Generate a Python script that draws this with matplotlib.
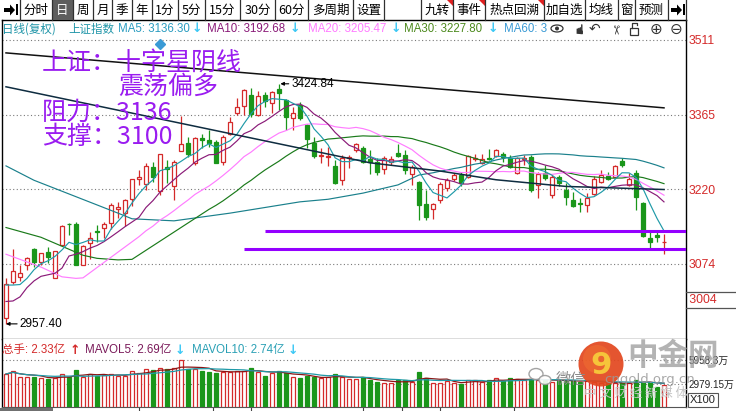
import numpy as np
import pandas as pd
import matplotlib
matplotlib.use("Agg")
import matplotlib.pyplot as plt
from matplotlib.patches import Rectangle, Polygon, Circle, Ellipse

CJK = ['Noto Sans CJK SC', 'DejaVu Sans']
MIX = ['Liberation Sans', 'Noto Sans CJK SC', 'DejaVu Sans']
plt.rcParams['font.family'] = CJK
plt.rcParams['axes.unicode_minus'] = False

# ---------------- data ----------------
opens = [2968, 3038, 3048, 3072, 3103, 3078, 3097, 3047, 3111, 3152,
         3152, 3073, 3114, 3138, 3145, 3153, 3182, 3174, 3201, 3239,
         3230, 3262, 3217, 3262, 3226, 3294, 3309, 3270, 3319, 3315,
         3312, 3273, 3328, 3367, 3382, 3403, 3364, 3403, 3387, 3414,
         3393, 3358, 3384, 3345, 3310, 3284, 3283, 3265, 3237, 3281,
         3296, 3299, 3278, 3272, 3258, 3273, 3291, 3286, 3250, 3234,
         3191, 3182, 3199, 3221, 3239, 3247, 3244, 3279, 3271, 3281,
         3285, 3288, 3280, 3252, 3279, 3283, 3228, 3252, 3208, 3243,
         3218, 3199, 3193, 3188, 3211, 3234, 3245, 3244, 3275, 3228,
         3252, 3193, 3124, 3130, 3117]
highs = [3046, 3103, 3073, 3088, 3106, 3096, 3108, 3100, 3149, 3153,
         3156, 3110, 3137, 3150, 3156, 3193, 3195, 3200, 3240, 3257,
         3270, 3273, 3289, 3276, 3276, 3362, 3322, 3322, 3328, 3335,
         3315, 3325, 3360, 3397, 3414, 3416, 3410, 3408, 3410, 3424.84,
         3395, 3380, 3390, 3346, 3321, 3299, 3301, 3276, 3286, 3286,
         3310, 3304, 3296, 3280, 3284, 3284, 3308, 3296, 3267, 3235,
         3219, 3192, 3234, 3241, 3252, 3254, 3286, 3289, 3289, 3297,
         3297, 3293, 3286, 3283, 3286, 3286, 3254, 3267, 3247, 3247,
         3231, 3215, 3202, 3212, 3245, 3257, 3254, 3267, 3280, 3252,
         3257, 3195, 3137, 3141, 3132]
lows = [2957.40, 3036, 3040, 3062, 3069, 3072, 3075, 3046, 3110, 3130,
        3073, 3072, 3083, 3117, 3124, 3143, 3163, 3147, 3186, 3228,
        3218, 3234, 3208, 3231, 3199, 3294, 3283, 3267, 3299, 3302,
        3270, 3267, 3325, 3364, 3364, 3361, 3362, 3380, 3367, 3374,
        3335, 3335, 3355, 3299, 3280, 3270, 3265, 3230, 3228, 3260,
        3293, 3270, 3250, 3247, 3250, 3267, 3282, 3250, 3228, 3160,
        3160, 3162, 3192, 3217, 3236, 3225, 3242, 3275, 3269, 3276,
        3283, 3273, 3260, 3250, 3267, 3215, 3202, 3238, 3202, 3225,
        3189, 3184, 3176, 3176, 3208, 3231, 3237, 3243, 3263, 3225,
        3179, 3127, 3104, 3117, 3093]
closes = [3036, 3060, 3056, 3085, 3077, 3095, 3088, 3099, 3148, 3151,
          3073, 3109, 3124, 3136, 3152, 3189, 3185, 3199, 3239, 3243,
          3265, 3243, 3288, 3258, 3273, 3307, 3289, 3319, 3315, 3310,
          3271, 3322, 3351, 3380, 3413, 3366, 3401, 3392, 3408, 3407,
          3360, 3367, 3358, 3317, 3284, 3287, 3285, 3231, 3280, 3283,
          3308, 3273, 3273, 3254, 3280, 3278, 3285, 3257, 3263, 3189,
          3166, 3191, 3230, 3237, 3248, 3231, 3284, 3281, 3278, 3279,
          3296, 3282, 3262, 3280, 3281, 3218, 3250, 3241, 3244, 3231,
          3205, 3187, 3191, 3202, 3240, 3247, 3239, 3265, 3267, 3239,
          3204, 3128, 3117, 3126, 3117]
volumes = [4183, 4606, 3845, 3761, 3803, 3718, 3550, 3634, 4183, 3845,
           4690, 3845, 4141, 3930, 4057, 4183, 3972, 3972, 4606, 4352,
           4775, 4690, 4902, 4775, 4902, 5958, 4775, 4775, 4606, 4479,
           4268, 4479, 4479, 4606, 4606, 4902, 4437, 3972, 4268, 4564,
           4352, 3761, 3676, 3930, 3761, 3634, 3761, 4183, 3845, 3507,
           3507, 3761, 3423, 3127, 3000, 3000, 3423, 3423, 3211, 4479,
           3718, 3085, 3085, 3338, 3000, 2916, 3423, 3423, 3127, 3423,
           3634, 3338, 3634, 3507, 3423, 3600, 3423, 3423, 3211, 3300,
           3423, 3300, 3200, 3296, 3211, 3000, 3000, 3000, 3085, 3000,
           3423, 3211, 3085, 2578, 2789]

# warm-up part of moving averages (before a full window exists)
ma5_head_idx = [0, 1, 2, 3]
ma5_head_val = [3033, 3033, 3034, 3046]
ma10_head_idx = [0, 1, 2, 3, 4, 5, 6, 7, 8]
ma10_head_val = [3001, 3002, 3010, 3028, 3041, 3050, 3053, 3056, 3066]
ma20_head_idx = [0, 3, 5, 8, 10, 11]
ma20_head_val = [3093, 3078, 3068, 3049, 3046, 3047]
ma30_head_idx = [0, 5, 11, 13, 16, 18]
ma30_head_val = [3145, 3126, 3091, 3085, 3082, 3083]
ma60_head_idx = [0, 4, 16, 18, 24, 32, 42, 46, 51, 56]
ma60_head_val = [3265, 3237, 3173, 3162, 3158, 3173, 3195, 3200, 3212, 3228]
ma120_idx = [0, 52, 62, 70, 80, 94]
ma120_val = [3419, 3271, 3255, 3238, 3225, 3219]
ma250_idx = [0, 52, 94]
ma250_val = [3485, 3426, 3378]

price_ticks = [3511, 3365, 3220, 3074]
low_label = 3004
vol_ticks = [2979.15, 5958.3]
vol_tick_labels = ['2979.15万', '5958.3万']
levels = [3138, 3103]          # 阻力 / 支撑 lines
level_start = [37, 34]
event_idx, event_price = [22], [3502]
month_ticks = [19, 29.5, 35, 51, 56.5, 62, 72.5]

ma_names = ['MA5', 'MA10', 'MA20', 'MA30', 'MA60']
ma_values_txt = ['3136.30', '3192.68', '3205.47', '3227.80', '3']
vol_hdr = ['总手: 2.33亿', 'MAVOL5: 2.69亿', 'MAVOL10: 2.74亿']

toolbar_labels = ['', '分时', '日', '周', '月', '季', '年', '1分', '5分', '15分', '30分',
                  '60分', '多周期', '设置', '', '九转', '事件', '热点回溯', '加自选',
                  '均线', '窗', '预测', '']

# ---------------- styling ----------------
RED = '#d42a2a'
GREEN = '#1a961a'
C_MA5 = '#1f9aa8'
C_MA10 = '#8a1a78'
C_MA20 = '#ff7cff'
C_MA30 = '#1a7a1a'
C_MA60 = '#1a808c'
C_MA120 = '#0e2c40'
C_MA250 = '#111111'
PURP = '#9a1cf0'
LEVEL = '#9400ff'
ARROW = '#3cc8f5'

W, H = 736, 411
fig = plt.figure(figsize=(W / 100, H / 100), dpi=100)


def fbox(l, t, r, b):
    return [l / W, 1 - b / H, (r - l) / W, (b - t) / H]


X0, DX = 6, 7
def px_to_idx(px):
    return (px - X0) / DX

XLIM = (px_to_idx(2), px_to_idx(686))
def y_to_price(y):
    return 3220 - (y - 189) * 1.947

o = np.array(opens, float); h = np.array(highs, float)
l = np.array(lows, float); c = np.array(closes, float)
v = np.array(volumes, float)
n = len(c)
x = np.arange(n)
up = c >= o
edge = [RED if u else GREEN for u in up]
face = ['white' if u else GREEN for u in up]
BODY_W = 0.64

# ---------------- price panel ----------------
ax = fig.add_axes(fbox(2, 20, 686, 339))
ax.set_xlim(*XLIM)
ax.set_ylim(y_to_price(339), y_to_price(20))
ax.set_xticks([])
ax.yaxis.tick_right()
ax.set_yticks(price_ticks, [str(t) for t in price_ticks], family=MIX, fontsize=8.8)
ax.tick_params(axis='y', length=0, pad=2, labelcolor=RED)
ax.grid(axis='y', linestyle=(0, (1, 2.2)), color='#7a7a7a', lw=0.8)
ax.set_axisbelow(True)
for s in ['left', 'right', 'top']:
    ax.spines[s].set_color('black'); ax.spines[s].set_linewidth(1)
ax.spines['bottom'].set_color('#555555'); ax.spines['bottom'].set_linewidth(1)

ax.vlines(x, l, h, colors=edge, lw=0.9, zorder=2)
body_lo = np.minimum(o, c)
body_h = np.maximum(np.abs(c - o), 0.5)
ax.bar(x, body_h, bottom=body_lo, width=BODY_W, color=face, edgecolor=edge,
       linewidth=0.9, zorder=3)


def ma_line(window, head_idx, head_val):
    full = pd.Series(c).rolling(window).mean().to_numpy()
    xs = list(head_idx) + list(range(window - 1, n))
    ys = list(head_val) + list(full[window - 1:])
    return xs, ys

for win, hi, hv, col in [(60, ma60_head_idx, ma60_head_val, C_MA60),
                         (30, ma30_head_idx, ma30_head_val, C_MA30),
                         (20, ma20_head_idx, ma20_head_val, C_MA20),
                         (10, ma10_head_idx, ma10_head_val, C_MA10),
                         (5, ma5_head_idx, ma5_head_val, C_MA5)]:
    xs, ys = ma_line(win, hi, hv)
    ax.plot(xs, ys, color=col, lw=0.85, zorder=4)
ax.plot(ma120_idx, ma120_val, color=C_MA120, lw=1.1, zorder=4)
ax.plot(ma250_idx, ma250_val, color=C_MA250, lw=1.1, zorder=4)

for lev, st in zip(levels, level_start):
    ax.hlines(lev, st, XLIM[1], colors=LEVEL, lw=2.2, zorder=5)

ax.plot(event_idx, event_price, marker='D', ms=5, color='#3a9ad5', ls='none',
        zorder=5, clip_on=False)

imax = int(np.argmax(h)); imin = int(np.argmin(l))
ax.annotate(f'{h[imax]:.2f}', xy=(imax, h[imax]), xytext=(9, 0),
            textcoords='offset points', va='center', ha='left', fontsize=8.5,
            family=MIX, color='black', zorder=6,
            arrowprops=dict(arrowstyle='-|>', color='black', lw=0.8,
                            shrinkA=0, shrinkB=1, mutation_scale=5))
ax.annotate(f'{l[imin]:.2f}', xy=(imin, l[imin]), xytext=(10, 0),
            textcoords='offset points', va='center', ha='left', fontsize=8.5,
            family=MIX, color='black', zorder=6,
            arrowprops=dict(arrowstyle='-|>', color='black', lw=0.8,
                            shrinkA=0, shrinkB=0, mutation_scale=5))

ax.text(1.0, low_label, f' {low_label}', transform=ax.get_yaxis_transform(),
        color=RED, fontsize=8.8, family=MIX, va='center', ha='left', clip_on=False)

# ---------------- volume panel ----------------
vax = fig.add_axes(fbox(2, 339, 686, 407))
vax.set_xlim(*XLIM)
vax.set_ylim(0, vol_ticks[-1] * (407 - 339) / (407 - 360))
vax.yaxis.tick_right()
vax.set_yticks(vol_ticks, vol_tick_labels, family=MIX, fontsize=7.1)
vax.tick_params(axis='y', length=0, pad=2, labelcolor='#222222')
vax.set_xticks(month_ticks)
vax.tick_params(axis='x', length=3, width=0.8, color='#444444', labelbottom=False)
vax.grid(axis='y', linestyle=(0, (1, 2.2)), color='#7a7a7a', lw=0.8)
vax.set_axisbelow(True)
vax.spines['top'].set_visible(False)
for s in ['left', 'right']:
    vax.spines[s].set_color('black'); vax.spines[s].set_linewidth(1)
vax.spines['bottom'].set_color('#555555'); vax.spines['bottom'].set_linewidth(0.8)
vax.bar(x, v, width=BODY_W, color=face, edgecolor=edge, linewidth=0.9, zorder=3)
mv5 = pd.Series(v).rolling(5, min_periods=1).mean()
mv10 = pd.Series(v).rolling(10, min_periods=1).mean()
vax.plot(x, mv5, color='#8b1515', lw=0.9, zorder=4)
vax.plot(x, mv10, color=C_MA5, lw=0.9, zorder=4)

# ---------------- UI chrome overlay (pixel coordinates) ----------------
ui = fig.add_axes([0, 0, 1, 1], zorder=10)
ui.set_xlim(0, W); ui.set_ylim(H, 0); ui.axis('off'); ui.patch.set_alpha(0)

edges = [0, 20, 52, 73, 93, 112, 132, 152, 178, 205, 240, 275, 308, 353, 384,
         421, 453, 485, 544, 585, 618, 635, 668, 686]
ui.add_patch(Rectangle((52, 0), 21, 20, fc='#5e5e5e', ec='none'))
for e in edges[1:]:
    ui.plot([e, e], [0, 20], color='#303030', lw=0.9)
for i, lab in enumerate(toolbar_labels):
    if lab:
        ui.text((edges[i] + edges[i + 1]) / 2, 10.5, lab, ha='center', va='center',
                fontsize=9, color='white' if lab == '日' else 'black', family=CJK)
for ex in [453, 485, 544]:
    ui.add_patch(Polygon([[ex - 6, 0.5], [ex - 0.5, 0.5], [ex - 0.5, 6]], fc='#e02020', ec='none'))


def arrow_icon(x0):
    ui.add_patch(Polygon([[x0, 8], [x0 + 6, 8], [x0 + 6, 4.5], [x0 + 11, 10],
                          [x0 + 6, 15.5], [x0 + 6, 12], [x0, 12]], fc='black', ec='none'))
    ui.add_patch(Rectangle((x0 + 11.5, 4.5), 2, 11, fc='black', ec='none'))

arrow_icon(4)
arrow_icon(671)

# header row
HY = 29
ui.text(2, HY, '日线(复权)', color='#1f95a8', fontsize=8.3, va='center', family=CJK)
ui.text(68, HY, '上证指数', color='#1f95a8', fontsize=8.3, va='center', family=CJK)
hdr_x = [118, 207, 308, 404, 504]
arr_x = [192, 290, 391, 488, None]
hdr_col = ['#2a9cc0', C_MA10, C_MA20, '#4d8a1e', '#3a9ad5']
for name, val, hx, axx, col in zip(ma_names, ma_values_txt, hdr_x, arr_x, hdr_col):
    ui.text(hx, HY, f'{name}: {val}', color=col, fontsize=8.3, va='center', family=MIX)
    if axx is not None:
        ui.text(axx, HY, '↓', color=ARROW, fontsize=9, va='center',
                family='DejaVu Sans', fontweight='bold')
# small tool icons
ui.add_patch(Ellipse((557, 28.5), 12, 7, fc='none', ec='#333333', lw=0.9))
ui.add_patch(Circle((557, 28.5), 2, fc='#333333', ec='none'))
ui.text(576, 29, '☚', fontsize=10, va='center', ha='center', family='DejaVu Sans', rotation=-90, color='#333333')
ui.text(594, 29, '↶', fontsize=10, va='center', ha='center', family='DejaVu Sans', color='#333333')
ui.text(614, 29, '✂', fontsize=9, va='center', ha='center', family='DejaVu Sans', color='#333333', rotation=-90)
ui.add_patch(Rectangle((630, 28), 8, 7, fc='none', ec='#333333', lw=0.9))
ui.plot([631.5, 631.5, 636.5, 636.5], [28, 23.5, 23.5, 25], color='#333333', lw=0.9)
ui.text(656, 29, '⊕', fontsize=11, va='center', ha='center', family='DejaVu Sans', color='#333333')
ui.text(676, 29, '⊖', fontsize=11, va='center', ha='center', family='DejaVu Sans', color='#333333')

# commentary text
ui.text(42, 63, '上证：十字星阴线', color=PURP, fontsize=18, va='center', ha='left', family=CJK)
ui.text(118, 87, '震荡偏多', color=PURP, fontsize=18, va='center', ha='left', family=CJK)
ui.text(42, 113, '阻力：3136', color=PURP, fontsize=18, va='center', ha='left', family=CJK)
ui.text(42, 137, '支撑：3100', color=PURP, fontsize=18, va='center', ha='left', family=CJK)

# 3004 box
ui.plot([686, 736], [292, 292], color='#555555', lw=0.9)
ui.plot([686, 736], [308, 308], color='#555555', lw=0.9)

# volume header
VY = 350
ui.text(2, VY, vol_hdr[0], color=RED, fontsize=8.3, va='center', family=MIX)
ui.text(70, VY, '↑', color=RED, fontsize=9, va='center', family='DejaVu Sans', fontweight='bold')
ui.text(85, VY, vol_hdr[1], color='#7a1a5a', fontsize=8.3, va='center', family=MIX)
ui.text(175, VY, '↓', color=ARROW, fontsize=9, va='center', family='DejaVu Sans', fontweight='bold')
ui.text(192, VY, vol_hdr[2], color='#2aa0b5', fontsize=8.3, va='center', family=MIX)
ui.text(288, VY, '↓', color=ARROW, fontsize=9, va='center', family='DejaVu Sans', fontweight='bold')

# scrollbar and X100 box
ui.add_patch(Rectangle((0, 407.5), 53, 4, fc='#707070', ec='none'))
ui.text(690, 400, 'X100', fontsize=8, va='center', ha='left', family=MIX, color='#222222')
ui.add_patch(Rectangle((688, 393), 30, 14, fc='none', ec='#555555', lw=0.8))

# watermark (semi-transparent, as in the reference)
ui.add_patch(Circle((601, 364), 22.5, fc='#e2461e', ec='none', alpha=0.92, zorder=20))
ui.add_patch(Circle((597, 359), 14, fc='#f07030', ec='none', alpha=0.55, zorder=20))
ui.text(601, 365, '9', color='#f6c43a', fontsize=22, fontweight='bold', ha='center',
        va='center', family='DejaVu Sans', zorder=21)
ui.text(627, 356, '中金网', color='#9a9a9a', alpha=0.75, fontsize=22, fontweight='bold',
        ha='left', va='center', family=CJK, zorder=21)
ui.add_patch(Ellipse((536, 374), 14, 11, fc='white', ec='#9a9a9a', lw=1, alpha=0.9, zorder=20))
ui.add_patch(Ellipse((545, 380), 12, 9, fc='white', ec='#9a9a9a', lw=1, alpha=0.9, zorder=20))
ui.text(556, 379, '微信', color='#8a8a8a', fontsize=11, ha='left', va='center', family=CJK, zorder=21)
ui.text(604, 379, 'cngold.org.cn', color='#9a9a9a', alpha=0.85, fontsize=9.5, ha='left',
        va='center', family='DejaVu Sans', zorder=21)
ui.text(584, 393, '中 文 财 经 新 媒 体', color='#c4c4c4', fontsize=9, ha='left', va='center',
        family=CJK, zorder=21)

fig.savefig('out.png', dpi=100)
